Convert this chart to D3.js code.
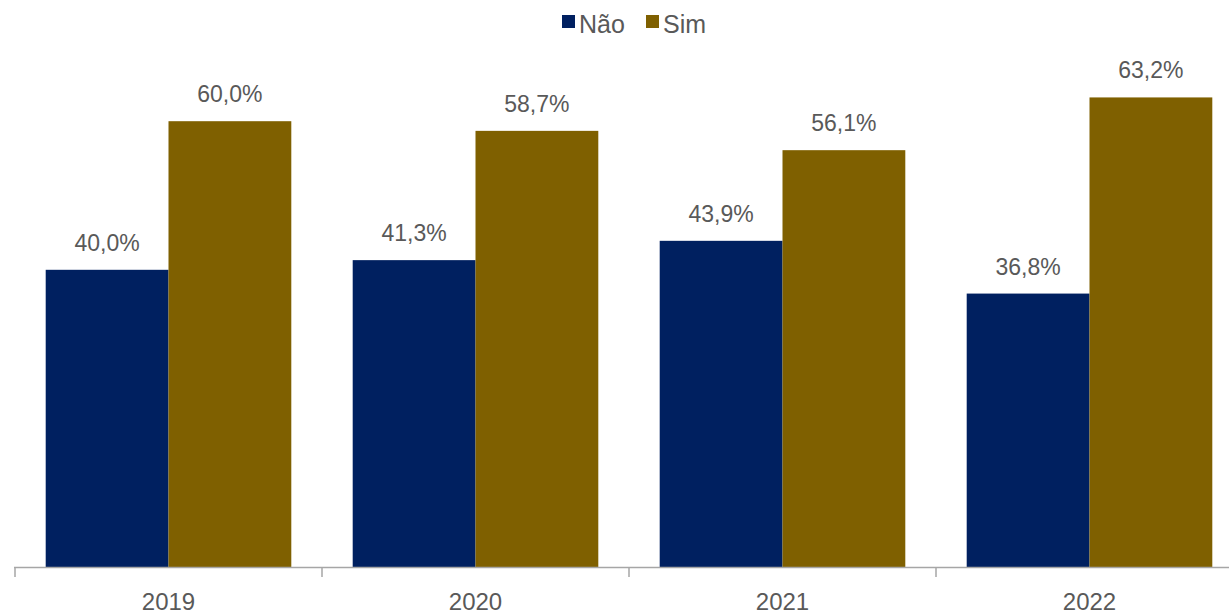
<!DOCTYPE html>
<html>
<head>
<meta charset="utf-8">
<script src="https://cdn.jsdelivr.net/npm/d3@7"></script>
<style>
  body { margin: 0; background: #fff; overflow: hidden; }
  svg { display: block; font-family: "Liberation Sans", Arial, sans-serif; }
</style>
</head>
<body>
<div class="container"></div>
<script>
var years = ["2019", "2020", "2021", "2022"];
var seriesNames = ["Não", "Sim"];
var naoValues = [40.0, 41.3, 43.9, 36.8];
var simValues = [60.0, 58.7, 56.1, 63.2];
var seriesColors = ["#002060", "#7F6000"];

var WIDTH = 1229, HEIGHT = 614;
var BASE_Y = 567;

var svg = d3.select(".container")
    .append("svg")
    .attr("width", WIDTH)
    .attr("height", HEIGHT);

var x = d3.scaleBand()
    .domain(years)
    .range([15, 1243])
    .paddingInner(0.2)
    .paddingOuter(0.1);

var x1 = d3.scaleBand()
    .domain(seriesNames)
    .range([0, x.bandwidth()]);

var y = d3.scaleLinear()
    .domain([0, 70])
    .range([BASE_Y, BASE_Y - 70 * 7.43]);

var color = d3.scaleOrdinal().domain(seriesNames).range(seriesColors);

var rows = years.map(function (yr, i) {
    return { year: yr, values: [
        { name: "Não", value: naoValues[i] },
        { name: "Sim", value: simValues[i] }
    ] };
});

var group = svg.selectAll("g.year")
    .data(rows)
    .enter()
    .append("g")
    .attr("class", "year")
    .attr("transform", function (d) {
        return "translate(" + x(d.year) + ",0)";
    });

group.selectAll("rect")
    .data(function (d) { return d.values; })
    .enter()
    .append("rect")
    .attr("x", function (d) { return x1(d.name); })
    .attr("y", function (d) { return y(d.value); })
    .attr("width", x1.bandwidth())
    .attr("height", function (d) { return BASE_Y - y(d.value); })
    .attr("fill", function (d) { return color(d.name); });

group.selectAll("text.label")
    .data(function (d) { return d.values; })
    .enter()
    .append("text")
    .attr("class", "label")
    .attr("x", function (d) { return x1(d.name) + x1.bandwidth() / 2; })
    .attr("y", function (d) { return y(d.value) - 19; })
    .attr("text-anchor", "middle")
    .attr("font-size", 23)
    .attr("fill", "#595959")
    .text(function (d) { return d.value.toFixed(1).replace(".", ",") + "%"; });

// x axis with ticks between categories
var axisG = svg.append("g").attr("class", "axis");
axisG.append("line")
    .attr("x1", 14).attr("x2", WIDTH)
    .attr("y1", BASE_Y + 0.5).attr("y2", BASE_Y + 0.5)
    .attr("stroke", "#A6A6A6")
    .attr("stroke-width", 1.5);

var tickPos = years.map(function (yr) { return x(yr) - x.step() * x.paddingOuter(); });
tickPos.push(x.range()[1]);
axisG.selectAll("line.tick")
    .data(tickPos)
    .enter()
    .append("line")
    .attr("class", "tick")
    .attr("x1", function (d) { return d; })
    .attr("x2", function (d) { return d; })
    .attr("y1", BASE_Y)
    .attr("y2", BASE_Y + 10)
    .attr("stroke", "#A6A6A6")
    .attr("stroke-width", 1.5);

axisG.selectAll("text")
    .data(years)
    .enter()
    .append("text")
    .attr("x", function (d) { return x(d) + x.bandwidth() / 2; })
    .attr("y", 610)
    .attr("text-anchor", "middle")
    .attr("font-size", 24)
    .attr("fill", "#595959")
    .text(function (d) { return d; });

// legend
var legendX = [562, 646];
var legend = svg.append("g")
    .selectAll("g")
    .data(seriesNames)
    .enter()
    .append("g")
    .attr("transform", function (d, i) {
        return "translate(" + legendX[i] + ",15)";
    });

legend.append("rect")
    .attr("width", 13)
    .attr("height", 13)
    .attr("fill", function (d) { return color(d); });

legend.append("text")
    .attr("x", 17)
    .attr("y", 18)
    .attr("font-size", 25)
    .attr("fill", "#595959")
    .text(function (d) { return d; });
</script>
</body>
</html>
